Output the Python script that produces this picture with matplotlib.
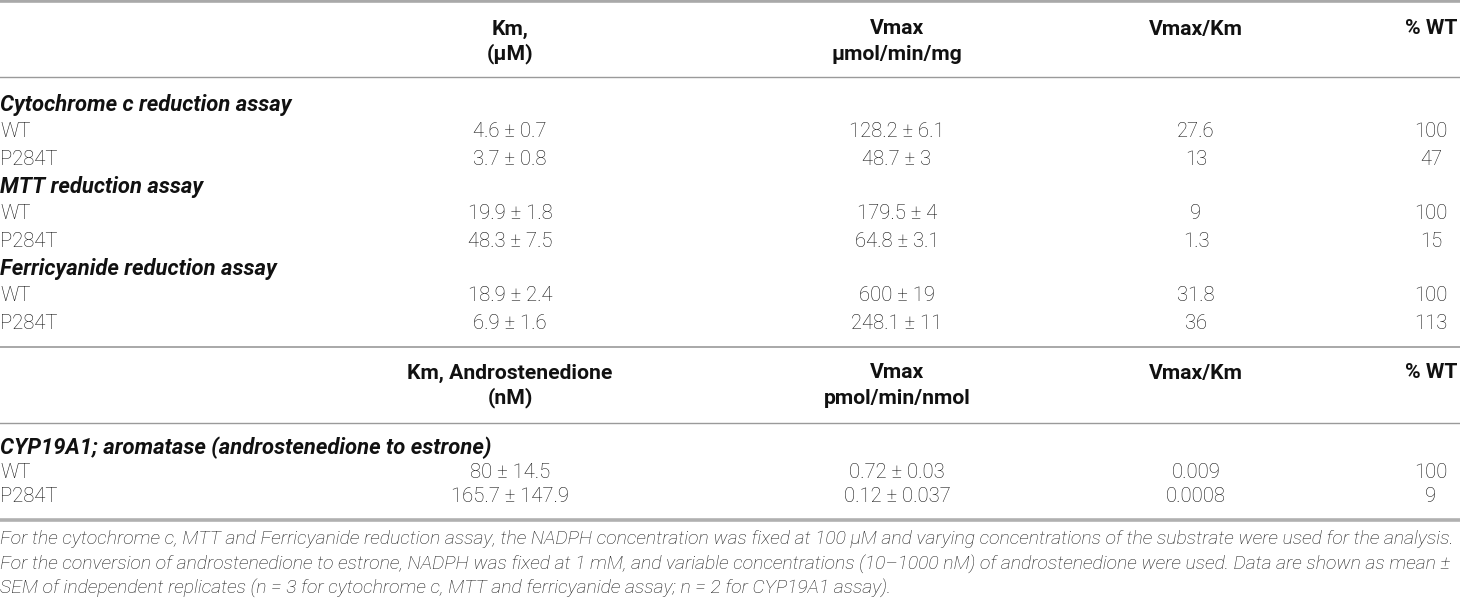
import matplotlib
matplotlib.use("Agg")
import matplotlib.pyplot as plt
from matplotlib.lines import Line2D

# ---- table content ----
col_head1 = ["Km,\n(µM)", "Vmax\nµmol/min/mg", "Vmax/Km", "% WT"]
col_head2 = ["Km, Androstenedione\n(nM)", "Vmax\npmol/min/nmol", "Vmax/Km", "% WT"]

assays = ["Cytochrome c reduction assay", "MTT reduction assay",
          "Ferricyanide reduction assay"]
variants = ["WT", "P284T"]

km = [["4.6 ± 0.7", "3.7 ± 0.8"],
      ["19.9 ± 1.8", "48.3 ± 7.5"],
      ["18.9 ± 2.4", "6.9 ± 1.6"]]
vmax = [["128.2 ± 6.1", "48.7 ± 3"],
        ["179.5 ± 4", "64.8 ± 3.1"],
        ["600 ± 19", "248.1 ± 11"]]
ratio = [["27.6", "13"],
         ["9", "1.3"],
         ["31.8", "36"]]
pct_wt = [["100", "47"],
          ["100", "15"],
          ["100", "113"]]

cyp_title = "CYP19A1; aromatase (androstenedione to estrone)"
cyp_km = ["80 ± 14.5", "165.7 ± 147.9"]
cyp_vmax = ["0.72 ± 0.03", "0.12 ± 0.037"]
cyp_ratio = ["0.009", "0.0008"]
cyp_pct = ["100", "9"]

footnote = [
    "For the cytochrome c, MTT and Ferricyanide reduction assay, the NADPH concentration was fixed at 100 µM and varying concentrations of the substrate were used for the analysis.",
    "For the conversion of androstenedione to estrone, NADPH was fixed at 1 mM, and variable concentrations (10–1000 nM) of androstenedione were used. Data are shown as mean ±",
    "SEM of independent replicates (n = 3 for cytochrome c, MTT and ferricyanide assay; n = 2 for CYP19A1 assay).",
]

# ---- layout (pixels) ----
W, H = 1460, 601
col_x = [510, 897, 1196, 1431]
body = dict(family=["Roboto", "DejaVu Sans"], fontweight="light",
            fontsize=14.6, color="#111111")
head = dict(family=["Roboto", "DejaVu Sans"],
            fontweight="bold", fontsize=15.2, color="#111111")
sect = dict(family=["Roboto", "DejaVu Sans"],
            fontweight="bold", fontstyle="italic", fontsize=15.8,
            color="#111111")

fig = plt.figure(figsize=(W / 100, H / 100), dpi=100)
fig.patch.set_facecolor("white")


def fy(y):
    return 1 - y / H


def txt(x, y, s, ha="center", **kw):
    return fig.text(x / W, fy(y), s, ha=ha, va="center", **kw)


def hline(y, lw, color):
    fig.add_artist(Line2D([0, 1], [fy(y), fy(y)], transform=fig.transFigure,
                          lw=lw, color=color))


hline(1.2, 2.6, "#a9a9a9")
hline(77, 1.0, "#9a9a9a")
hline(347, 1.2, "#9a9a9a")
hline(423, 1.0, "#9a9a9a")
hline(519.5, 2.6, "#b0b0b0")

# headers
for x, h in zip(col_x, col_head1):
    for k, part in enumerate(h.split("\n")):
        txt(x, 29 + 25 * k, part, **head)
for x, h in zip(col_x, col_head2):
    for k, part in enumerate(h.split("\n")):
        txt(x, 373 + 25 * k, part, **head)

# first block
y0, step = 104.5, 27.35
r = 0
for i, a in enumerate(assays):
    txt(0, y0 + step * r, a, ha="left", **sect)
    r += 1
    for j, v in enumerate(variants):
        y = y0 + step * r
        txt(0, y, v, ha="left", **body)
        for x, col in zip(col_x, [km, vmax, ratio, pct_wt]):
            txt(x, y, col[i][j], **body)
        r += 1

# aromatase block
txt(0, 448, cyp_title, ha="left", **sect)
for j, v in enumerate(variants):
    y = 472.5 + 24.5 * j
    txt(0, y, v, ha="left", **body)
    for x, col in zip(col_x, [cyp_km, cyp_vmax, cyp_ratio, cyp_pct]):
        txt(x, y, col[j], **body)

# footnote, sized so the first line spans the width
foot = dict(family=["Roboto", "DejaVu Sans"], fontweight="light",
            fontstyle="italic", color="#1a1a1a")
fs = 12.0
t = txt(0, 539, footnote[0], ha="left", fontsize=fs, **foot)
rend = fig.canvas.get_renderer()
wpx = t.get_window_extent(rend).width
fs = fs * 1455 / wpx
t.set_fontsize(fs)
for k, line in enumerate(footnote[1:], start=1):
    txt(0, 539 + 25 * k, line, ha="left", fontsize=fs, **foot)

fig.savefig("out.png", dpi=100, facecolor="white")
